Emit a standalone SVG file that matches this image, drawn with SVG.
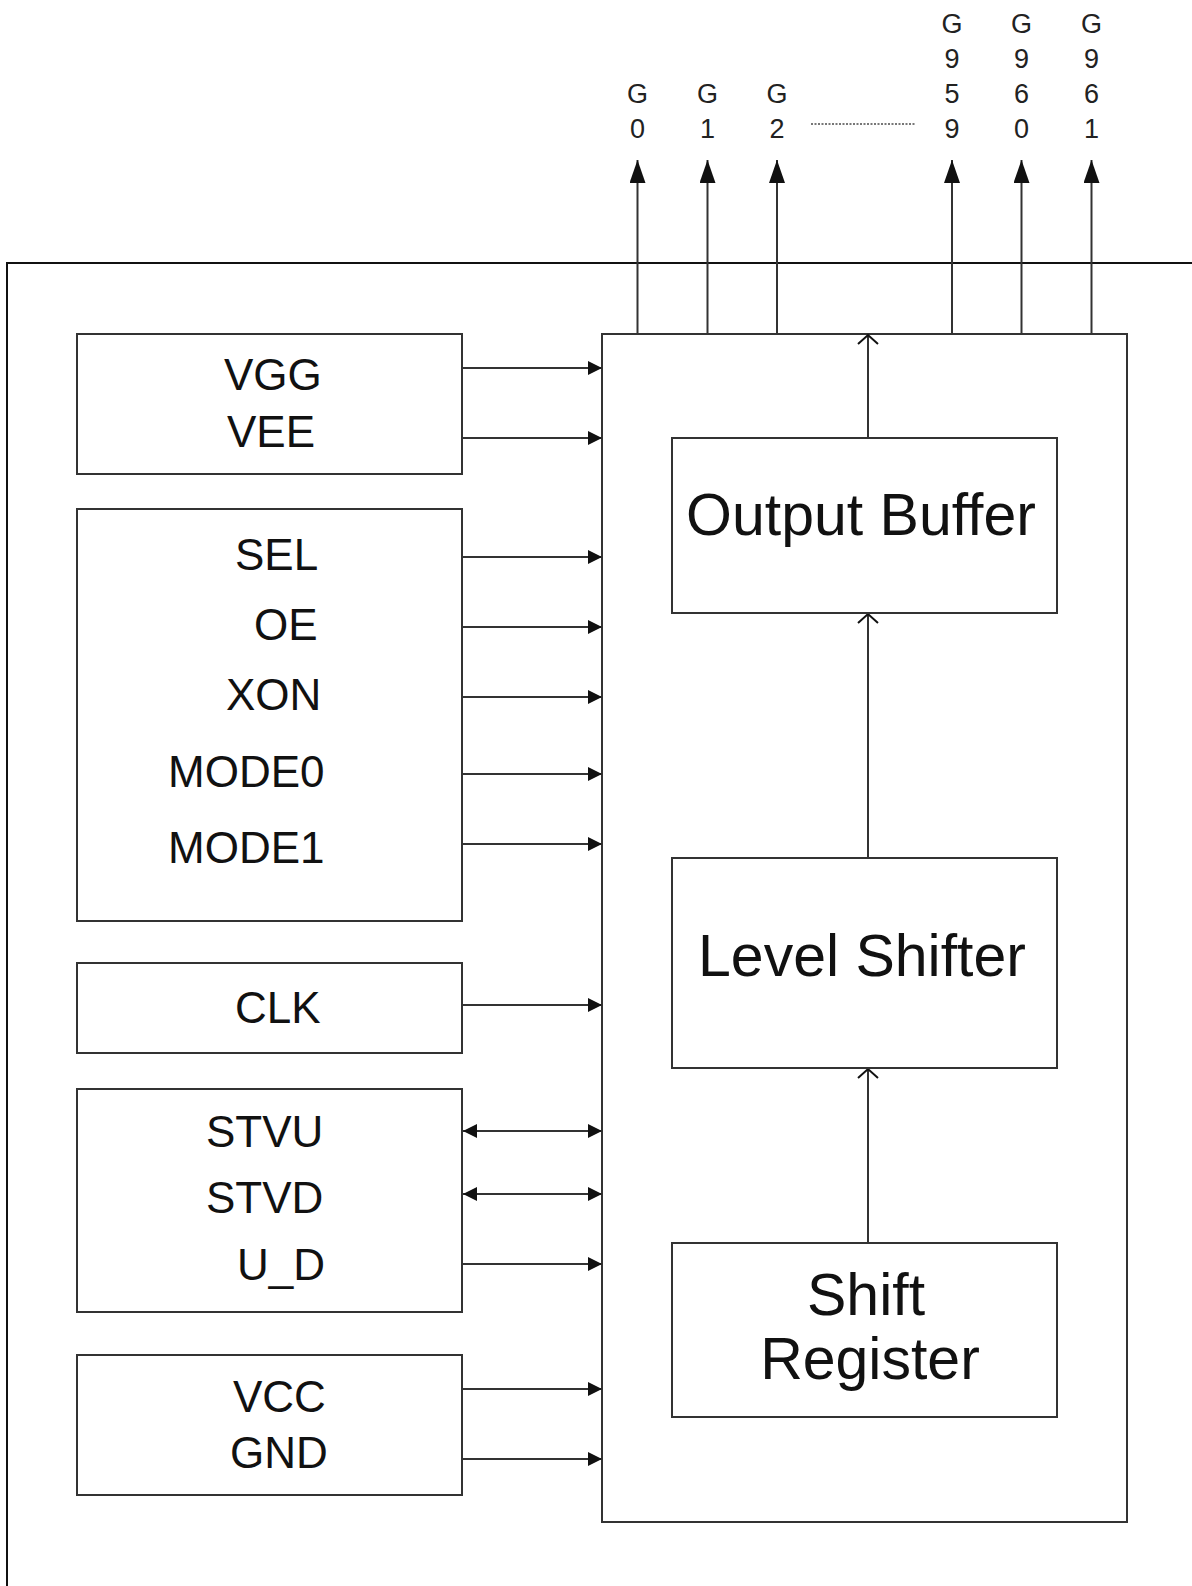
<svg xmlns="http://www.w3.org/2000/svg" width="1192" height="1586" viewBox="0 0 1192 1586">
<style>
  .box { fill: #fff; stroke: #333; stroke-width: 2; }
  .chip { fill: none; stroke: #333; stroke-width: 2; }
  .frame { fill: none; stroke: #111; stroke-width: 2; }
  .wire { fill: none; stroke: #333; stroke-width: 2; }
  .lbl { font-family: "Liberation Sans", Arial, sans-serif; font-size: 44px; fill: #111; }
  .big { font-family: "Liberation Sans", Arial, sans-serif; font-size: 59px; fill: #111; text-anchor: middle; }
  .pin { font-family: "Liberation Sans", Arial, sans-serif; font-size: 27px; fill: #222; text-anchor: middle; }
</style>
<defs>
  <marker id="ah" markerUnits="userSpaceOnUse" markerWidth="16" markerHeight="14" refX="14" refY="7" orient="auto-start-reverse">
    <path d="M0,0 L14,7 L0,14 Z" fill="#111"/>
  </marker>
  <marker id="ahBig" markerUnits="userSpaceOnUse" markerWidth="24" markerHeight="18" refX="23" refY="8" orient="auto">
    <path d="M0,0 L23,8 L0,16 Z" fill="#111"/>
  </marker>
  <marker id="ahOpen" markerUnits="userSpaceOnUse" markerWidth="14" markerHeight="24" refX="10" refY="11" orient="auto">
    <path d="M1,1 L10,11 L1,21" fill="none" stroke="#111" stroke-width="2"/>
  </marker>
</defs>
<rect width="1192" height="1586" fill="#fff"/>

<g id="frame">
  <polyline class="frame" points="7,1586 7,263 1192,263"/>
</g>

<g id="chip">
  <rect class="chip" x="602" y="334" width="525" height="1188"/>
</g>

<g id="connectors">
  <!-- inputs -->
  <line class="wire" x1="462" y1="368" x2="602" y2="368" marker-end="url(#ah)"/>
  <line class="wire" x1="462" y1="438" x2="602" y2="438" marker-end="url(#ah)"/>
  <line class="wire" x1="462" y1="557" x2="602" y2="557" marker-end="url(#ah)"/>
  <line class="wire" x1="462" y1="627" x2="602" y2="627" marker-end="url(#ah)"/>
  <line class="wire" x1="462" y1="697" x2="602" y2="697" marker-end="url(#ah)"/>
  <line class="wire" x1="462" y1="774" x2="602" y2="774" marker-end="url(#ah)"/>
  <line class="wire" x1="462" y1="844" x2="602" y2="844" marker-end="url(#ah)"/>
  <line class="wire" x1="462" y1="1005" x2="602" y2="1005" marker-end="url(#ah)"/>
  <line class="wire" x1="463" y1="1131" x2="602" y2="1131" marker-start="url(#ah)" marker-end="url(#ah)"/>
  <line class="wire" x1="463" y1="1194" x2="602" y2="1194" marker-start="url(#ah)" marker-end="url(#ah)"/>
  <line class="wire" x1="462" y1="1264" x2="602" y2="1264" marker-end="url(#ah)"/>
  <line class="wire" x1="462" y1="1389" x2="602" y2="1389" marker-end="url(#ah)"/>
  <line class="wire" x1="462" y1="1459" x2="602" y2="1459" marker-end="url(#ah)"/>
  <!-- internal -->
  <line class="wire" x1="868" y1="1243" x2="868" y2="1069" marker-end="url(#ahOpen)"/>
  <line class="wire" x1="868" y1="858" x2="868" y2="614" marker-end="url(#ahOpen)"/>
  <line class="wire" x1="868" y1="438" x2="868" y2="335" marker-end="url(#ahOpen)"/>
  <!-- outputs -->
  <line class="wire" x1="637.5" y1="334" x2="637.5" y2="160" marker-end="url(#ahBig)"/>
  <line class="wire" x1="707.5" y1="334" x2="707.5" y2="160" marker-end="url(#ahBig)"/>
  <line class="wire" x1="777" y1="334" x2="777" y2="160" marker-end="url(#ahBig)"/>
  <line class="wire" x1="952" y1="334" x2="952" y2="160" marker-end="url(#ahBig)"/>
  <line class="wire" x1="1021.5" y1="334" x2="1021.5" y2="160" marker-end="url(#ahBig)"/>
  <line class="wire" x1="1091.5" y1="334" x2="1091.5" y2="160" marker-end="url(#ahBig)"/>
  <line x1="811" y1="124" x2="916" y2="124" stroke="#777" stroke-width="2" stroke-dasharray="2,1.5"/>
</g>

<g id="pins">
  <text class="pin" x="637.5" y="103">G</text><text class="pin" x="637.5" y="138">0</text>
  <text class="pin" x="707.5" y="103">G</text><text class="pin" x="707.5" y="138">1</text>
  <text class="pin" x="777" y="103">G</text><text class="pin" x="777" y="138">2</text>
  <text class="pin" x="952" y="33">G</text><text class="pin" x="952" y="68">9</text><text class="pin" x="952" y="103">5</text><text class="pin" x="952" y="138">9</text>
  <text class="pin" x="1021.5" y="33">G</text><text class="pin" x="1021.5" y="68">9</text><text class="pin" x="1021.5" y="103">6</text><text class="pin" x="1021.5" y="138">0</text>
  <text class="pin" x="1091.5" y="33">G</text><text class="pin" x="1091.5" y="68">9</text><text class="pin" x="1091.5" y="103">6</text><text class="pin" x="1091.5" y="138">1</text>
</g>

<g id="output-buffer">
  <rect class="box" x="672" y="438" width="385" height="175"/>
  <text class="big" x="861" y="535">Output Buffer</text>
</g>
<g id="level-shifter">
  <rect class="box" x="672" y="858" width="385" height="210"/>
  <text class="big" x="862" y="976">Level Shifter</text>
</g>
<g id="shift-register">
  <rect class="box" x="672" y="1243" width="385" height="174"/>
  <text class="big" x="866" y="1315">Shift</text>
  <text class="big" x="870" y="1379">Register</text>
</g>

<g id="power-in">
  <rect class="box" x="77" y="334" width="385" height="140"/>
  <text class="lbl" x="224" y="390">VGG</text>
  <text class="lbl" x="227" y="447">VEE</text>
</g>
<g id="control-in">
  <rect class="box" x="77" y="509" width="385" height="412"/>
  <text class="lbl" x="235" y="570">SEL</text>
  <text class="lbl" x="254" y="640">OE</text>
  <text class="lbl" x="226" y="710">XON</text>
  <text class="lbl" x="168" y="787">MODE0</text>
  <text class="lbl" x="168" y="863">MODE1</text>
</g>
<g id="clk-in">
  <rect class="box" x="77" y="963" width="385" height="90"/>
  <text class="lbl" x="235" y="1023">CLK</text>
</g>
<g id="start-in">
  <rect class="box" x="77" y="1089" width="385" height="223"/>
  <text class="lbl" x="206" y="1147">STVU</text>
  <text class="lbl" x="206" y="1213">STVD</text>
  <text class="lbl" x="237" y="1280">U_D</text>
</g>
<g id="supply-in">
  <rect class="box" x="77" y="1355" width="385" height="140"/>
  <text class="lbl" x="233" y="1412">VCC</text>
  <text class="lbl" x="230" y="1468">GND</text>
</g>
</svg>
